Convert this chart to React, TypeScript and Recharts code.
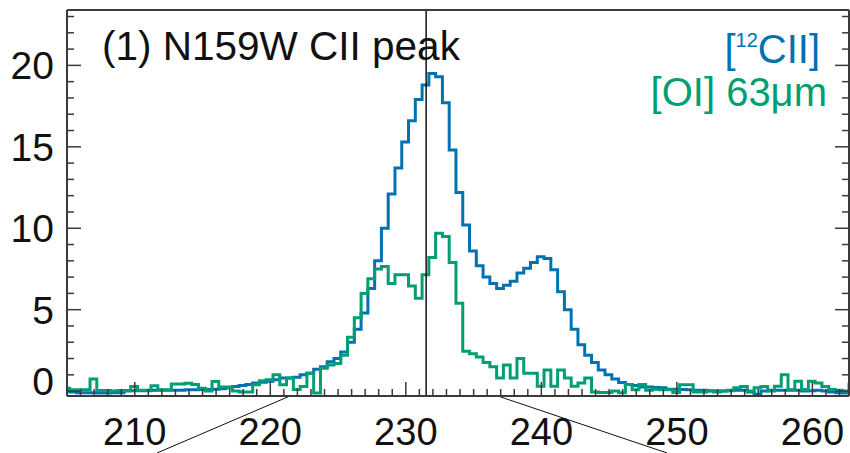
import { LineChart, Line, XAxis, YAxis, ReferenceLine } from 'recharts';

document.body.style.margin = '0';

// bin centres (km/s), 0.5 km/s channels
const velocity = [
  204.95, 205.45, 205.95, 206.45, 206.95, 207.45, 207.95, 208.45, 208.95, 209.45,
  209.95, 210.45, 210.95, 211.45, 211.95, 212.45, 212.95, 213.45, 213.95, 214.45,
  214.95, 215.45, 215.95, 216.45, 216.95, 217.45, 217.95, 218.45, 218.95, 219.45,
  219.95, 220.45, 220.95, 221.45, 221.95, 222.45, 222.95, 223.45, 223.95, 224.45,
  224.95, 225.45, 225.95, 226.45, 226.95, 227.45, 227.95, 228.45, 228.95, 229.45,
  229.95, 230.45, 230.95, 231.45, 231.95, 232.45, 232.95, 233.45, 233.95, 234.45,
  234.95, 235.45, 235.95, 236.45, 236.95, 237.45, 237.95, 238.45, 238.95, 239.45,
  239.95, 240.45, 240.95, 241.45, 241.95, 242.45, 242.95, 243.45, 243.95, 244.45,
  244.95, 245.45, 245.95, 246.45, 246.95, 247.45, 247.95, 248.45, 248.95, 249.45,
  249.95, 250.45, 250.95, 251.45, 251.95, 252.45, 252.95, 253.45, 253.95, 254.45,
  254.95, 255.45, 255.95, 256.45, 256.95, 257.45, 257.95, 258.45, 258.95, 259.45,
  259.95, 260.45, 260.95, 261.45, 261.95, 262.45, 262.95,
];

const cii = [
  0.0, -0.05, -0.1, -0.1, -0.1, -0.12, -0.12, -0.1, -0.1, 0.0,
  0.02, 0.02, 0.03, 0.05, 0.05, 0.05, 0.05, 0.05, 0.08, 0.08,
  0.1, 0.1, 0.12, 0.15, 0.2, 0.28, 0.35, 0.4, 0.5, 0.55,
  0.6, 0.7, 0.8, 0.8, 0.85, 1.0, 1.1, 1.35, 1.5, 1.8,
  2.0, 2.4, 3.0, 3.8, 4.8, 6.3, 8.0, 10.0, 12.1, 13.7,
  15.3, 16.6, 17.9, 18.8, 19.5, 19.3, 17.7, 14.8, 12.2, 10.2,
  8.6, 7.7, 7.0, 6.6, 6.3, 6.5, 6.75, 7.25, 7.55, 7.9,
  8.25, 8.15, 7.45, 6.1, 5.0, 3.8, 2.85, 2.2, 1.75, 1.3,
  1.0, 0.75, 0.53, 0.4, 0.35, 0.25, 0.25, 0.22, 0.2, 0.12,
  0.12, 0.1, 0.08, 0.05, 0.05, 0.03, 0.0, 0.0, 0.02, 0.05,
  0.05, -0.05, -0.2, 0.0, 0.05, 0.05, 0.05, 0.05, 0.05, 0.0,
  0.02, 0.05, 0.0, -0.05, -0.1, -0.12, -0.1,
];

const oi = [
  0.18, 0.08, 0.08, 0.08, 0.74, 0.04, 0.04, 0.0, 0.04, 0.04,
  0.28, 0.05, 0.05, 0.33, 0.08, 0.08, 0.43, 0.43, 0.49, 0.4,
  0.18, 0.0, 0.59, 0.25, 0.25, 0.0, -0.05, -0.05, 0.39, 0.63,
  0.7, 1.0, 0.39, 0.8, 0.1, 0.28, 1.1, -0.12, 1.4, 1.6,
  1.7, 2.2, 3.3, 4.5, 6.0, 6.9, 7.5, 7.65, 6.6, 7.15,
  7.15, 6.45, 5.7, 7.15, 8.2, 9.7, 9.5, 7.9, 5.4, 2.45,
  2.3, 2.1, 1.75, 1.5, 0.8, 1.6, 0.8, 2.0, 1.1, 1.1,
  0.3, 1.3, 0.3, 1.3, 0.8, 0.3, 0.5, 0.8, -0.05, -0.08,
  -0.08, 0.0, -0.1, 0.4, 0.08, 0.4, 0.05, 0.12, 0.08, 0.08,
  -0.08, 0.39, 0.39, -0.05, -0.05, 0.0, -0.05, 0.0, 0.05, 0.2,
  0.28, 0.0, 0.2, 0.28, 0.0, 0.3, 1.0, 0.08, 0.6, 0.1,
  0.6, 0.5, 0.28, 0.1, 0.05, 0.0, 0.4,
];

const xTicks = [
  205, 206, 207, 208, 209, 210, 211, 212, 213, 214, 215, 216, 217, 218, 219, 220,
  221, 222, 223, 224, 225, 226, 227, 228, 229, 230, 231, 232, 233, 234, 235, 236,
  237, 238, 239, 240, 241, 242, 243, 244, 245, 246, 247, 248, 249, 250, 251, 252,
  253, 254, 255, 256, 257, 258, 259, 260, 261, 262,
];
const yTicks = [0, 1, 2, 3, 4, 5, 6, 7, 8, 9, 10, 11, 12, 13, 14, 15, 16, 17, 18, 19, 20, 21, 22, 23];

const CII_PEAK = 231.5;

const BLUE = '#0072B2';
const GREEN = '#009E73';
const AXIS = '#3a3a3a';
const FONT = '"Liberation Sans", Arial, Helvetica, sans-serif';

const rows = velocity.map((v, i) => ({ v, cii: cii[i], oi: oi[i] }));

function BottomTick({ x, y, payload }: any) {
  const major = payload.value % 10 === 0;
  return (
    <g>
      <line x1={x} x2={x} y1={y} y2={y - (major ? 14 : 7)} stroke={AXIS} strokeWidth={1.5} />
      {major && (
        <text x={x} y={y + 49} textAnchor="middle" fontSize={38} fill="#111" fontFamily={FONT}>
          {payload.value}
        </text>
      )}
    </g>
  );
}

function TopTick({ x, y, payload }: any) {
  const major = payload.value % 10 === 0;
  return <line x1={x} x2={x} y1={y} y2={y + (major ? 14 : 7)} stroke={AXIS} strokeWidth={1.5} />;
}

function LeftTick({ x, y, payload }: any) {
  const major = payload.value % 5 === 0;
  // the zero label sits a little higher than its tick in the original
  const dy = payload.value === 0 ? -10 : 0;
  return (
    <g>
      <line x1={x} x2={x + (major ? 14 : 7)} y1={y} y2={y} stroke={AXIS} strokeWidth={1.5} />
      {major && (
        <text x={x - 13} y={y + 14 + dy} textAnchor="end" fontSize={39} fill="#111" fontFamily={FONT}>
          {payload.value}
        </text>
      )}
    </g>
  );
}

function RightTick({ x, y, payload }: any) {
  const major = payload.value % 5 === 0;
  return <line x1={x} x2={x - (major ? 14 : 7)} y1={y} y2={y} stroke={AXIS} strokeWidth={1.5} />;
}

export default function App() {
  return (
    <div style={{ width: 850, height: 453, background: '#fff' }}>
      <LineChart width={850} height={453} data={rows} margin={{ top: 0, right: 0, left: 0, bottom: 0 }}>
        <XAxis
          dataKey="v"
          type="number"
          domain={[205, 262.7]}
          ticks={xTicks}
          interval={0}
          allowDataOverflow
          height={57}
          tickSize={0}
          tickMargin={0}
          tickLine={false}
          tick={BottomTick}
          axisLine={{ stroke: AXIS, strokeWidth: 2 }}
        />
        <XAxis
          xAxisId="top"
          orientation="top"
          type="number"
          domain={[205, 262.7]}
          ticks={xTicks}
          interval={0}
          allowDataOverflow
          height={10}
          tickSize={0}
          tickMargin={0}
          tickLine={false}
          tick={TopTick}
          axisLine={{ stroke: AXIS, strokeWidth: 2 }}
        />
        <YAxis
          type="number"
          domain={[-0.3, 23.4]}
          ticks={yTicks}
          interval={0}
          allowDataOverflow
          width={67}
          tickSize={0}
          tickMargin={0}
          tickLine={false}
          tick={LeftTick}
          axisLine={{ stroke: AXIS, strokeWidth: 2 }}
        />
        <YAxis
          yAxisId="right"
          orientation="right"
          type="number"
          domain={[-0.3, 23.4]}
          ticks={yTicks}
          interval={0}
          allowDataOverflow
          width={1}
          tickSize={0}
          tickMargin={0}
          tickLine={false}
          tick={RightTick}
          axisLine={{ stroke: AXIS, strokeWidth: 2 }}
        />
        <Line
          type="step"
          dataKey="cii"
          stroke={BLUE}
          strokeWidth={3}
          dot={false}
          activeDot={false}
          isAnimationActive={false}
        />
        <Line
          type="step"
          dataKey="oi"
          stroke={GREEN}
          strokeWidth={3}
          dot={false}
          activeDot={false}
          isAnimationActive={false}
        />
        <ReferenceLine x={CII_PEAK} stroke="#111" strokeWidth={1.5} />
        <ReferenceLine
          segment={[{ x: 221.31, y: -0.35 }, { x: 211.64, y: -3.8 }]}
          stroke="#111"
          strokeWidth={1}
          ifOverflow="visible"
        />
        <ReferenceLine
          segment={[{ x: 236.96, y: -0.35 }, { x: 249.28, y: -3.8 }]}
          stroke="#111"
          strokeWidth={1}
          ifOverflow="visible"
        />
        <text x={102} y={60} fontSize={40.5} fill="#111" fontFamily={FONT}>
          (1) N159W CII peak
        </text>
        <text x={820} y={63} textAnchor="end" fontSize={40} fill={BLUE} fontFamily={FONT}>
          <tspan>[</tspan>
          <tspan fontSize={20} dy={-16}>12</tspan>
          <tspan dy={16}>CII]</tspan>
        </text>
        <text x={827} y={106} textAnchor="end" fontSize={40} fill={GREEN} fontFamily={FONT}>
          [OI] 63μm
        </text>
      </LineChart>
    </div>
  );
}
